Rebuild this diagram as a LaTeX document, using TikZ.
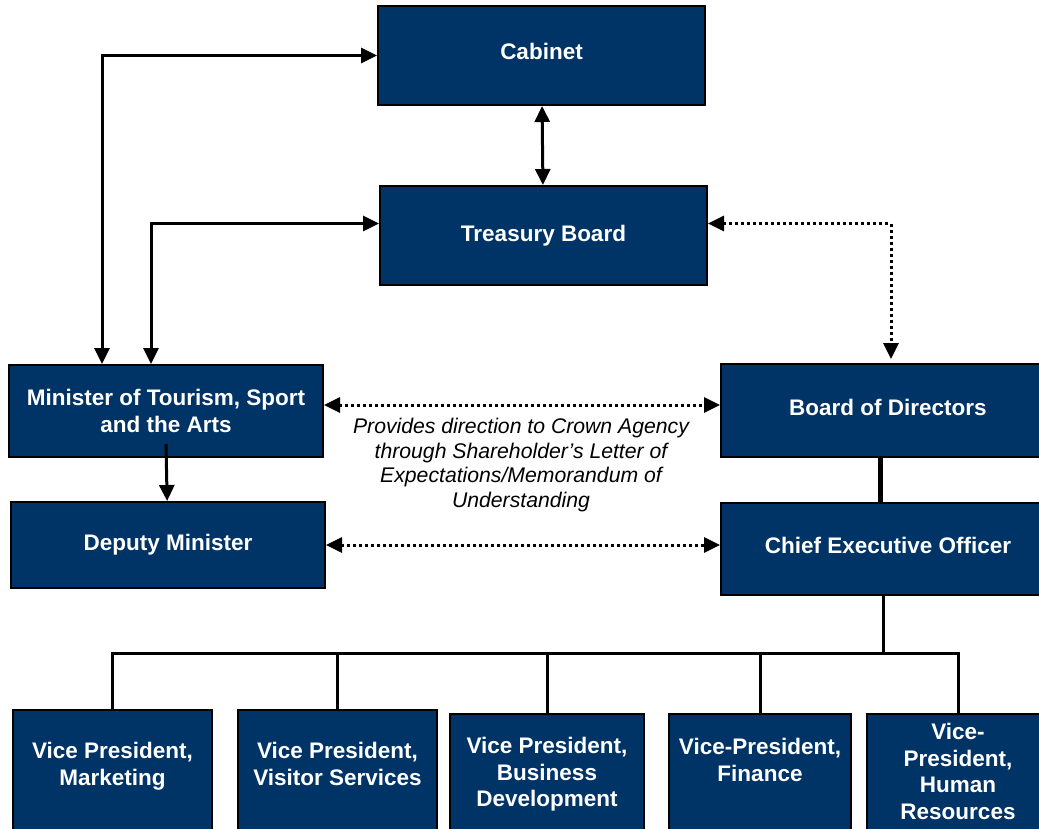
\documentclass[tikz,border=0pt]{standalone}
\usepackage{fontspec}
\setmainfont{Liberation Sans}
\usetikzlibrary{arrows.meta,positioning}

\definecolor{navy}{RGB}{0,51,102}
\newcommand\boxfont{\fontsize{22.5}{26.5}\selectfont\bfseries}
\newcommand\notefont{\fontsize{21.2}{24.4}\selectfont\itshape}

\tikzset{
	box/.style={rectangle, draw, line width=2pt, fill=navy, text=white, inner sep=0pt, align=center, font=\boxfont},
	vpbox/.style={rectangle, draw, line width=2pt, fill=navy, anchor=north, minimum height=130pt},
	vptext/.style={text=white, inner sep=0pt, align=center, font=\boxfont},
	note/.style={inner sep=0pt, align=center, font=\notefont},
	link/.style={line width=3pt},
	dotlink/.style={line width=3pt, dash pattern=on 3pt off 3pt},
	tree/.style={line width=3pt},
}

\begin{document}
\begin{tikzpicture}[x=1pt, y=-1pt, >={Triangle[length=16pt,width=15pt]}]

\useasboundingbox (0,0) rectangle (1039,829);

	% government side
	\node [box, minimum width=327pt, minimum height=99pt, text depth=9pt] (cabinet) at (541.5,55.5) {Cabinet};
	\node [box, minimum width=327pt, minimum height=99pt] (treasury) at (543.5,235.5) {Treasury Board};
	\node [box, minimum width=314pt, minimum height=92pt] (minister) at (166,411) {Minister of Tourism, Sport\\and the Arts};
	\node [box, minimum width=314pt, minimum height=86pt] (deputy) at (168,545) {Deputy Minister};

	% crown agency side
	\node [box, minimum width=334pt, minimum height=93pt, text depth=7pt] (board) at (888,410.5) {Board of Directors};
	\node [box, minimum width=334pt, minimum height=92pt, text depth=7pt] (ceo) at (888,549) {Chief Executive Officer};

\node[note] (note) at (521,465) {Provides direction to Crown Agency\\through Shareholder’s Letter of\\Expectations/Memorandum of\\Understanding};

	% vice presidents
	\node [vpbox, minimum width=199pt] (vp1) at (112.5,709) {};
	\node [vpbox, minimum width=199pt] (vp2) at (337.5,709) {};
	\node [vpbox, minimum width=194pt] (vp3) at (547,713) {};
	\node [vpbox, minimum width=182pt] (vp4) at (760,713) {};
	\node [vpbox, minimum width=182pt] (vp5) at (958,713) {};

	\node [vptext, below=33pt of vp1.north] (vp1t) {Vice President,\\Marketing};
	\node [vptext, below=33pt of vp2.north] (vp2t) {Vice President,\\Visitor Services};
	\node [vptext, below=24pt of vp3.north] (vp3t) {Vice President,\\Business\\Development};
	\node [vptext, below=25pt of vp4.north] (vp4t) {Vice-President,\\Finance};
	\node [vptext, below=10pt of vp5.north] (vp5t) {Vice-\\President,\\Human\\Resources};

	% reporting lines
	\draw [link, <->] ([xshift=94pt]minister.north west) |- (cabinet);
	\draw [link, <->] ([xshift=143pt]minister.north west) |- ([yshift=12pt]treasury.west);
	\draw [link, <->] (cabinet) -- (treasury);
	\draw [link, ->] ([yshift=14pt]minister.south) -- (deputy);

	\draw [dotlink, <->] ([yshift=12pt]treasury.east) -| ([xshift=3pt,yshift=4pt]board.north);
	\draw [dotlink, <->] ([yshift=6pt]minister.east) -- ([yshift=6pt]minister.east -| board.west);
	\draw [dotlink, <->] (deputy.east) -- (deputy.east -| ceo.west);

	\draw [line width=5pt] ([xshift=-8pt]board.south) -- ([xshift=-8pt]ceo.north);

	\draw [tree] ([xshift=-5pt]ceo.south) -- ++(0,57) coordinate (bus);
	\foreach \v in {vp1,vp2,vp3,vp4,vp5}
		\draw [tree] (\v.north) |- (bus);

\end{tikzpicture}
\end{document}
